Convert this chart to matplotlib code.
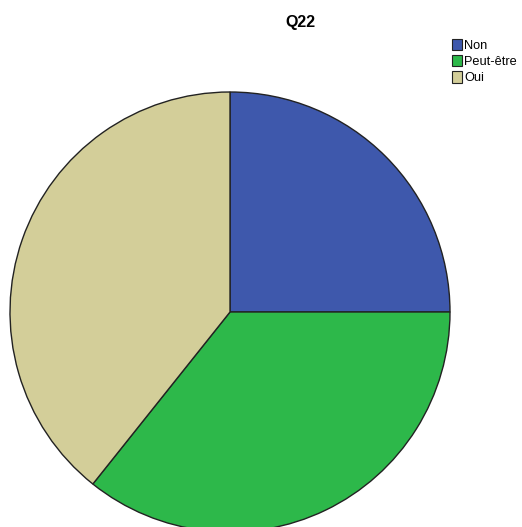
import matplotlib.pyplot as plt

# Répartition des réponses à la question Q22
categories = ["Non", "Peut-être", "Oui"]
effectifs = [7, 10, 11]
couleurs = ["#3e58ac", "#2db84a", "#d3ce99"]

W, H = 522, 527
fig = plt.figure(figsize=(W / 100, H / 100), dpi=100)
ax = fig.add_axes([0, 0, 1, 1])

wedges, _ = ax.pie(effectifs, colors=couleurs, startangle=90, counterclock=False,
                   center=(230, H - 312), radius=220, frame=True,
                   wedgeprops=dict(edgecolor="#222222", linewidth=1.0))
ax.set_xlim(0, W)
ax.set_ylim(0, H)
ax.set_aspect("equal")
ax.axis("off")

fig.text(300 / W, 1 - 22 / H, "Q22", ha="center", va="center",
         fontsize=11.5, fontweight="bold", family="Liberation Sans")

leg = fig.legend(wedges, categories, loc="upper left",
                 bbox_to_anchor=(449 / W, 1 - 36 / H), frameon=False,
                 prop=dict(family="Liberation Sans", size=9.2),
                 handlelength=0.85, handleheight=1.0, handletextpad=0.15,
                 labelspacing=0.25, borderaxespad=0, borderpad=0.2)
for h in leg.legend_handles:
    h.set_edgecolor("#222222")
    h.set_linewidth(0.8)

fig.savefig("out.png", dpi=100)
